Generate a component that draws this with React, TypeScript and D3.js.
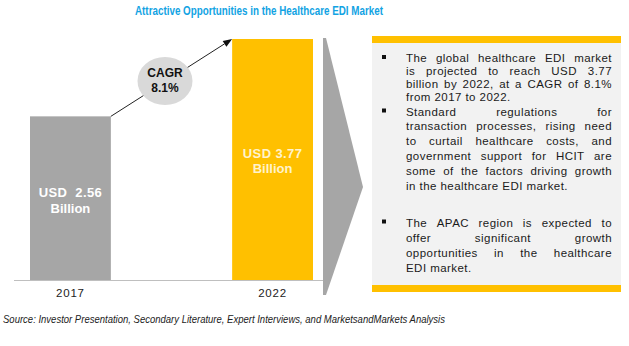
import React from "react";
import * as d3 from "d3";

const years = ["2017", "2022"];
const values = [2.56, 3.77];
const barLabels = ["USD  2.56", "USD 3.77"];
const barColors = ["#a6a6a6", "#ffc000"];
const labelColors = ["#ffffff", "#fff3cc"];
const cagrLines = ["CAGR", "8.1%"];
const title = "Attractive Opportunities in the Healthcare EDI Market";
const source = "Source: Investor Presentation, Secondary Literature, Expert Interviews, and MarketsandMarkets Analysis";

const para1 = ["The global healthcare EDI market", "is projected to reach USD 3.77", "billion by 2022, at a CAGR of 8.1%", "from 2017 to 2022."];
const para2 = ["Standard regulations for", "transaction processes, rising need", "to curtail healthcare costs, and", "government support for HCIT are", "some of the factors driving growth", "in the healthcare EDI market."];
const para3 = ["The APAC region is expected to", "offer significant growth", "opportunities in the healthcare", "EDI market."];

const paragraphs = [
  { lines: para1, y0: 62, step: 13 },
  { lines: para2, y0: 115.5, step: 14.8 },
  { lines: para3, y0: 226.5, step: 15.3 },
];

const FONT_SIZE = 11.5;
const LS = 0.45;
let ctx: CanvasRenderingContext2D | null = null;
function measure(s: string): number {
  if (!ctx) {
    const c = document.createElement("canvas");
    ctx = c.getContext("2d");
  }
  if (!ctx) return s.length * 6;
  ctx.font = `${FONT_SIZE}px 'Liberation Sans', Arial, sans-serif`;
  return ctx.measureText(s).width + LS * s.length;
}

function JustifiedLine({ text, x, y, width, justify }: { text: string; x: number; y: number; width: number; justify: boolean }) {
  const words = text.split(" ");
  const widths = words.map(measure);
  const spaceW = measure(" ");
  const total = widths.reduce((a, b) => a + b, 0);
  let gap = spaceW;
  if (justify && words.length > 1) gap = (width - total) / (words.length - 1);
  if (gap < 1.5) gap = 1.5;
  let cx = x;
  return (
    <g>
      {words.map((w, i) => {
        const el = (
          <text key={i} x={cx} y={y} fontSize={FONT_SIZE} letterSpacing={LS} fill="#1a1a1a"
            fontFamily="'Liberation Sans', Arial, sans-serif">{w}</text>
        );
        cx += widths[i] + gap;
        return el;
      })}
    </g>
  );
}

export default function App() {
  const W = 629, H = 346;
  const baseY = 280;
  const x = d3.scaleBand<string>().domain(years).range([30, 313]).paddingInner(0.6).paddingOuter(0);
  const y = d3.scaleLinear().domain([0, values[1]]).range([baseY, 39]);
  const bw = x.bandwidth();

  const x1 = (x(years[0]) as number) + bw;
  const y1 = y(values[0]);
  const x2 = x(years[1]) as number;
  const y2 = y(values[1]);
  const ang = Math.atan2(y2 - y1, x2 - x1);
  const ah = 9, aw = 3.5;
  const tip = [x2, y2];
  const back = [x2 - ah * Math.cos(ang), y2 - ah * Math.sin(ang)];
  const px = -Math.sin(ang), py = Math.cos(ang);
  const arrowHead = [
    tip,
    [back[0] + px * aw, back[1] + py * aw],
    [back[0] - px * aw, back[1] - py * aw],
  ];

  const narrowFont = "'Liberation Sans Narrow', 'Liberation Sans', Arial, sans-serif";
  const textX = 406, textW = 206;

  return (
    <svg width={W} height={H} style={{ position: "absolute", left: 0, top: 0, background: "#fff" }}
      fontFamily="'Liberation Sans', Arial, sans-serif">
      <text x={259} y={15} textAnchor="middle" fontSize={12.5} fontWeight="bold" fill="#12a3e3"
        fontFamily={narrowFont} textLength={248} lengthAdjust="spacingAndGlyphs">{title}</text>

      {/* baseline */}
      <line x1={14} x2={323} y1={baseY + 0.5} y2={baseY + 0.5} stroke="#bfbfbf" strokeWidth={1} />

      {/* bars */}
      {years.map((yr, i) => (
        <g key={yr}>
          <rect x={x(yr)} y={y(values[i])} width={bw} height={baseY - y(values[i])} fill={barColors[i]} />
          <text x={(x(yr) as number) + bw / 2} y={297} textAnchor="middle" fontSize={11.5} fill="#222"
            letterSpacing={0.8}>{yr}</text>
        </g>
      ))}

      {/* bar labels */}
      <text x={(x(years[0]) as number) + bw / 2} y={197} textAnchor="middle" fontSize={13} fontWeight="bold" fill={labelColors[0]} letterSpacing={0.4} style={{ whiteSpace: "pre" }}>{barLabels[0]}</text>
      <text x={(x(years[0]) as number) + bw / 2} y={213} textAnchor="middle" fontSize={13} fontWeight="bold" fill={labelColors[0]}>Billion</text>
      <text x={(x(years[1]) as number) + bw / 2} y={158} textAnchor="middle" fontSize={13} fontWeight="bold" fill={labelColors[1]} letterSpacing={0.4}>{barLabels[1]}</text>
      <text x={(x(years[1]) as number) + bw / 2} y={173} textAnchor="middle" fontSize={13} fontWeight="bold" fill={labelColors[1]}>Billion</text>

      {/* CAGR arrow */}
      <line x1={x1} y1={y1} x2={back[0]} y2={back[1]} stroke="#222" strokeWidth={1} />
      <polygon points={arrowHead.map(p => p.join(",")).join(" ")} fill="#111" />
      <ellipse cx={165} cy={81} rx={27.5} ry={24} fill="#d9d9d9" />
      <text x={165} y={77} textAnchor="middle" fontSize={12} fontWeight="bold" fill="#111">{cagrLines[0]}</text>
      <text x={165} y={92} textAnchor="middle" fontSize={12} fontWeight="bold" fill="#111">{cagrLines[1]}</text>

      {/* chevron */}
      <polygon points="323,38 326,38 363,187 326,295 323,295" fill="#a6a6a6" />

      {/* text box */}
      <rect x={372} y={36} width={249} height={7} fill="#ffc000" />
      <rect x={372} y={43} width={249} height={242} fill="#f2f2f2" />
      <rect x={372} y={285} width={249} height={7} fill="#ffc000" />

      {paragraphs.map((p, pi) => (
        <g key={pi}>
          <rect x={382} y={p.y0 - 7} width={4} height={4} fill="#111" />
          {p.lines.map((ln, li) => (
            <JustifiedLine key={li} text={ln} x={textX} y={p.y0 + li * p.step} width={textW}
              justify={li !== p.lines.length - 1} />
          ))}
        </g>
      ))}

      <text x={3} y={323} fontSize={11} fontStyle="italic" fill="#222" textLength={442} lengthAdjust="spacingAndGlyphs">{source}</text>
    </svg>
  );
}
